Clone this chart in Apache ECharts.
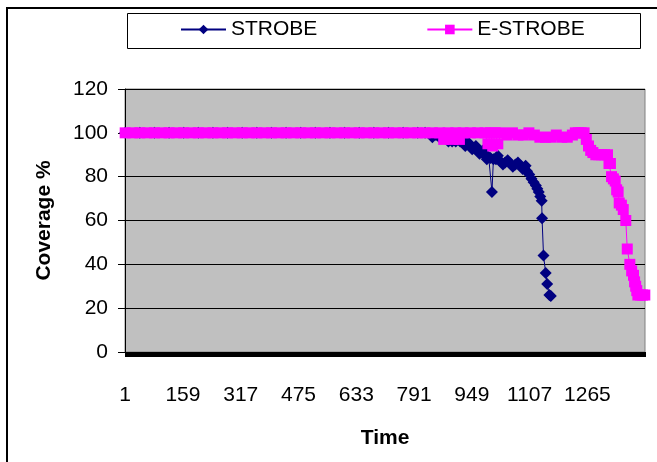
<!DOCTYPE html>
<html>
<head>
<meta charset="utf-8">
<script src="https://cdn.jsdelivr.net/npm/echarts@6/dist/echarts.min.js"></script>
<style>
html, body { margin: 0; padding: 0; background: #fff; }
#chart { width: 657px; height: 462px; }
</style>
</head>
<body>
<div id="chart"></div>
<script>
// x axis: one category per time step, labels every 158
const lastTime = 1422
const labelStep = 158

// STROBE: time step -> coverage %
const strobeTime = [
  1, 41, 81, 121, 161, 201, 241, 281, 321, 361, 401, 441, 481, 521, 561, 601, 641, 681, 721, 761, 801,
  821, 841, 851, 860, 872, 885, 895, 905, 917, 921, 926, 931, 935, 940, 945, 950, 955, 960, 965,
  970, 975, 980, 985, 990, 995, 1000, 1004, 1008, 1015, 1020, 1027, 1034, 1040, 1047, 1054, 1061,
  1068, 1075, 1082, 1088, 1092, 1096, 1100, 1106, 1112, 1118, 1124, 1128,
  1132, 1136, 1140, 1141, 1145, 1151, 1155, 1161, 1165
]
const strobeCoverage = [
  100, 100, 100, 100, 100, 100, 100, 100, 100, 100, 100, 100, 100, 100, 100, 100, 100, 100, 100, 100, 100,
  100, 98, 99, 98, 99, 96, 96, 96, 96, 97, 95.5, 94, 95, 95.5, 94, 92.5, 93, 94, 92,
  90.5, 91, 92, 90, 88, 89, 88.5, 73, 88, 88, 89.5, 87, 85.5, 86.5, 87.5, 86, 84.5,
  85.5, 86.5, 85, 83.5, 84, 85, 82.5, 81, 79, 77.5, 76, 74.5,
  73, 71, 69, 61, 44, 36, 31, 26, 25.5
]

// E-STROBE: time step -> coverage %
const eStrobeTime = [
  1, 21, 41, 61, 81, 101, 121, 141, 161, 181, 201, 221, 241, 261, 281, 301, 321, 341, 361, 381, 401,
  421, 441, 461, 481, 501, 521, 541, 561, 581, 601, 621, 641, 661, 681, 701, 721, 741, 761, 781, 801,
  821, 841, 861, 872, 884, 895, 905, 915, 925, 945, 965, 985, 993, 1000, 1006, 1013, 1020, 1030,
  1045, 1060, 1075, 1090, 1105, 1120, 1135, 1150, 1165, 1180, 1195, 1210, 1224, 1232, 1240, 1248,
  1256, 1262, 1268, 1274, 1280, 1288, 1296, 1304, 1312, 1320, 1324, 1328, 1331, 1336, 1341, 1345,
  1349, 1352, 1358, 1363, 1370, 1374, 1381, 1386, 1391, 1394, 1397, 1400, 1403, 1410, 1416, 1422
]
const eStrobeCoverage = [
  100, 100, 100, 100, 100, 100, 100, 100, 100, 100, 100, 100, 100, 100, 100, 100, 100, 100, 100, 100, 100,
  100, 100, 100, 100, 100, 100, 100, 100, 100, 100, 100, 100, 100, 100, 100, 100, 100, 100, 100, 100,
  100, 100, 100, 97, 100, 97, 100, 97, 100, 100, 100, 100, 95, 100, 94, 100, 95, 100,
  99, 100, 99, 99, 100, 99, 98, 98, 98, 99, 98, 98, 99, 100, 100, 100,
  100, 97, 94, 92, 91, 90, 90, 90, 90, 90, 86, 86, 80, 79, 78, 74,
  73, 68, 67, 65, 60, 47, 40, 37, 35, 32, 30, 28, 26, 26, 26, 26
]

const yTicks = { min: 0, max: 120, interval: 20 }

const fontFamily = '"Liberation Sans", Arial, sans-serif'

const times = []
for (let t = 1; t <= lastTime; t++) times.push(String(t))

const toPairs = (xs, ys) => xs.map((t, i) => [String(t), ys[i]])

const chart = echarts.init(document.getElementById('chart'))

const option = {
  animation: false,
  textStyle: { fontFamily: fontFamily, color: '#000' },
  graphic: [
    {
      type: 'rect', z: 0, silent: true,
      shape: { x: 7, y: 8, width: 720, height: 520 },
      style: { fill: 'none', stroke: '#000', lineWidth: 2 }
    },
    {
      type: 'rect', z: 0, silent: true,
      shape: { x: 127.5, y: 13.5, width: 513, height: 35 },
      style: { fill: '#fff', stroke: '#000', lineWidth: 1 }
    }
  ],
  legend: {
    data: ['STROBE', 'E-STROBE'],
    left: 180,
    top: 19,
    padding: 0,
    itemWidth: 45,
    itemHeight: 12,
    itemGap: 109,
    z: 10,
    textStyle: { fontSize: 21, color: '#000', fontFamily: fontFamily }
  },
  grid: {
    left: 125,
    right: 12,
    top: 89,
    bottom: 110,
    show: true,
    backgroundColor: '#C0C0C0',
    borderColor: '#808080',
    borderWidth: 1
  },
  xAxis: {
    type: 'category',
    data: times,
    boundaryGap: true,
    name: 'Time',
    nameLocation: 'middle',
    nameGap: 76,
    nameTextStyle: { fontSize: 21, fontWeight: 'bold', color: '#000', fontFamily: fontFamily },
    axisLine: { show: true, lineStyle: { color: '#000', width: 1 } },
    axisTick: { show: true, interval: 0, length: 5, lineStyle: { color: '#000' } },
    axisLabel: {
      interval: labelStep - 1,
      fontSize: 21,
      color: '#000',
      margin: 33
    },
    splitLine: { show: false }
  },
  yAxis: {
    type: 'value',
    min: yTicks.min,
    max: yTicks.max,
    interval: yTicks.interval,
    name: 'Coverage %',
    nameLocation: 'middle',
    nameGap: 70,
    nameTextStyle: { fontSize: 21, fontWeight: 'bold', color: '#000', fontFamily: fontFamily },
    axisLine: { show: true, lineStyle: { color: '#000', width: 1 } },
    axisTick: { show: true, length: 7, lineStyle: { color: '#000' } },
    axisLabel: { fontSize: 21, color: '#000', margin: 17 },
    splitLine: { show: true, lineStyle: { color: '#000', width: 1 } }
  },
  series: [
    {
      name: 'STROBE',
      type: 'line',
      data: toPairs(strobeTime, strobeCoverage),
      symbol: 'diamond',
      symbolSize: 12,
      showSymbol: true,
      showAllSymbol: true,
      clip: false,
      lineStyle: { color: '#000080', width: 1 },
      itemStyle: { color: '#000080' }
    },
    {
      name: 'E-STROBE',
      type: 'line',
      data: toPairs(eStrobeTime, eStrobeCoverage),
      symbol: 'rect',
      symbolSize: 11,
      showSymbol: true,
      showAllSymbol: true,
      clip: false,
      lineStyle: { color: '#FF00FF', width: 1 },
      itemStyle: { color: '#FF00FF' }
    }
  ]
}

chart.setOption(option)
</script>
</body>
</html>
